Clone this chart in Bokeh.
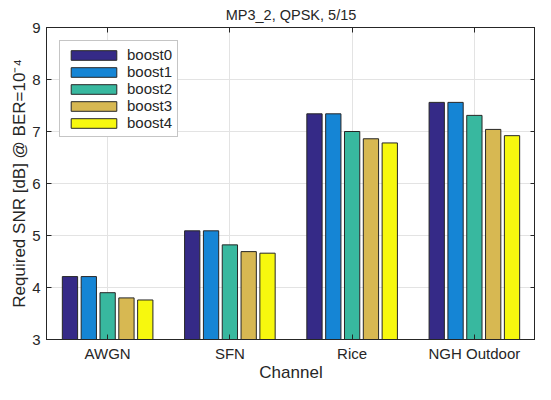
from bokeh.plotting import figure
from bokeh.models import ColumnDataSource, Range1d, LinearAxis, Legend, LegendItem, FixedTicker
from bokeh.transform import dodge
from bokeh.embed import file_html
from bokeh.resources import INLINE

channels = ["AWGN", "SFN", "Rice", "NGH Outdoor"]
series = ["boost0", "boost1", "boost2", "boost3", "boost4"]
boost0 = [4.21, 5.09, 7.34, 7.56]
boost1 = [4.21, 5.09, 7.34, 7.56]
boost2 = [3.90, 4.82, 7.00, 7.31]
boost3 = [3.80, 4.69, 6.86, 7.04]
boost4 = [3.76, 4.66, 6.78, 6.92]
colors = ["#352A87", "#1585D5", "#38B89F", "#D7B852", "#F7F80E"]
yticks = [3, 4, 5, 6, 7, 8, 9]
xpos = list(range(1, len(channels) + 1))

FONT = "Liberation Sans"
TXT = "#262626"

src = ColumnDataSource(dict(x=xpos, boost0=boost0, boost1=boost1, boost2=boost2,
                            boost3=boost3, boost4=boost4))

p = figure(width=535, height=384, x_range=Range1d(0.5, len(channels) + 0.5),
           y_range=Range1d(3, 9), output_backend="svg", toolbar_location=None,
           title="MP3_2, QPSK, 5/15", min_border_left=46, min_border_right=0,
           min_border_top=18, min_border_bottom=0)

p.title.align = "center"
p.title.text_font = FONT
p.title.text_font_size = "14.5px"
p.title.text_font_style = "normal"
p.title.text_color = TXT
p.title.standoff = 9

offsets = [-0.308, -0.154, 0.0, 0.154, 0.308]
items = []
for s, off, c in zip(series, offsets, colors):
    r = p.vbar(x=dodge("x", off), top=s, bottom=3, width=0.125,
               source=src, fill_color=c, line_color="#262626", line_width=1)
    items.append(LegendItem(label=s, renderers=[r]))

legend = Legend(items=items, location="top_left", glyph_width=57, glyph_height=12,
                label_height=12, spacing=0, padding=5, label_standoff=5,
                label_text_font=FONT, label_text_font_size="15px",
                label_text_line_height=1.0,
                label_text_color=TXT, border_line_color="#8c8c8c",
                border_line_width=1, background_fill_alpha=1)
legend.margin = 13
p.add_layout(legend, "center")

p.xaxis.ticker = FixedTicker(ticks=xpos)
p.xaxis.major_label_overrides = {x: c for x, c in zip(xpos, channels)}
p.yaxis.ticker = FixedTicker(ticks=yticks)
p.yaxis.axis_label = "Required SNR [dB] @ BER=10⁻⁴"
for ax in [p.xaxis[0], p.yaxis[0]]:
    ax.axis_label_text_font = FONT
    ax.axis_label_text_font_size = "17px"
    ax.axis_label_text_font_style = "normal"
    ax.axis_label_text_color = TXT
    ax.axis_label_text_line_height = 1.0
    ax.major_label_text_font = FONT
    ax.major_label_text_font_size = "15px"
    ax.major_label_text_line_height = 1.0
    ax.major_label_text_color = TXT
    ax.major_tick_in = 5
    ax.major_tick_out = 0
    ax.minor_tick_in = 0
    ax.minor_tick_out = 0
    ax.axis_line_color = "#262626"
    ax.major_tick_line_color = "#262626"
p.xaxis.axis_label = "Channel"
p.xaxis.axis_label_standoff = -2
p.xaxis.major_label_standoff = 5
p.yaxis.axis_label_standoff = 0
p.yaxis.major_label_standoff = 6

ra = LinearAxis(ticker=FixedTicker(ticks=yticks),
                major_label_overrides={t: "" for t in yticks},
                major_tick_in=5, major_tick_out=0, minor_tick_in=0, minor_tick_out=0,
                major_label_standoff=0, axis_line_color="#262626", major_tick_line_color="#262626")
p.add_layout(ra, "right")
ta = LinearAxis(ticker=FixedTicker(ticks=xpos),
                major_label_overrides={t: "" for t in xpos},
                major_tick_in=5, major_tick_out=0, minor_tick_in=0, minor_tick_out=0,
                major_label_standoff=0, axis_line_color="#262626", major_tick_line_color="#262626")
p.add_layout(ta, "above")

p.xgrid.ticker = FixedTicker(ticks=xpos)
p.xgrid.grid_line_color = "#e3e3e3"
p.ygrid.grid_line_color = "#e3e3e3"
p.outline_line_color = "#262626"
p.background_fill_color = "white"
p.border_fill_color = "white"

open("out.html", "w").write(file_html(p, INLINE))
